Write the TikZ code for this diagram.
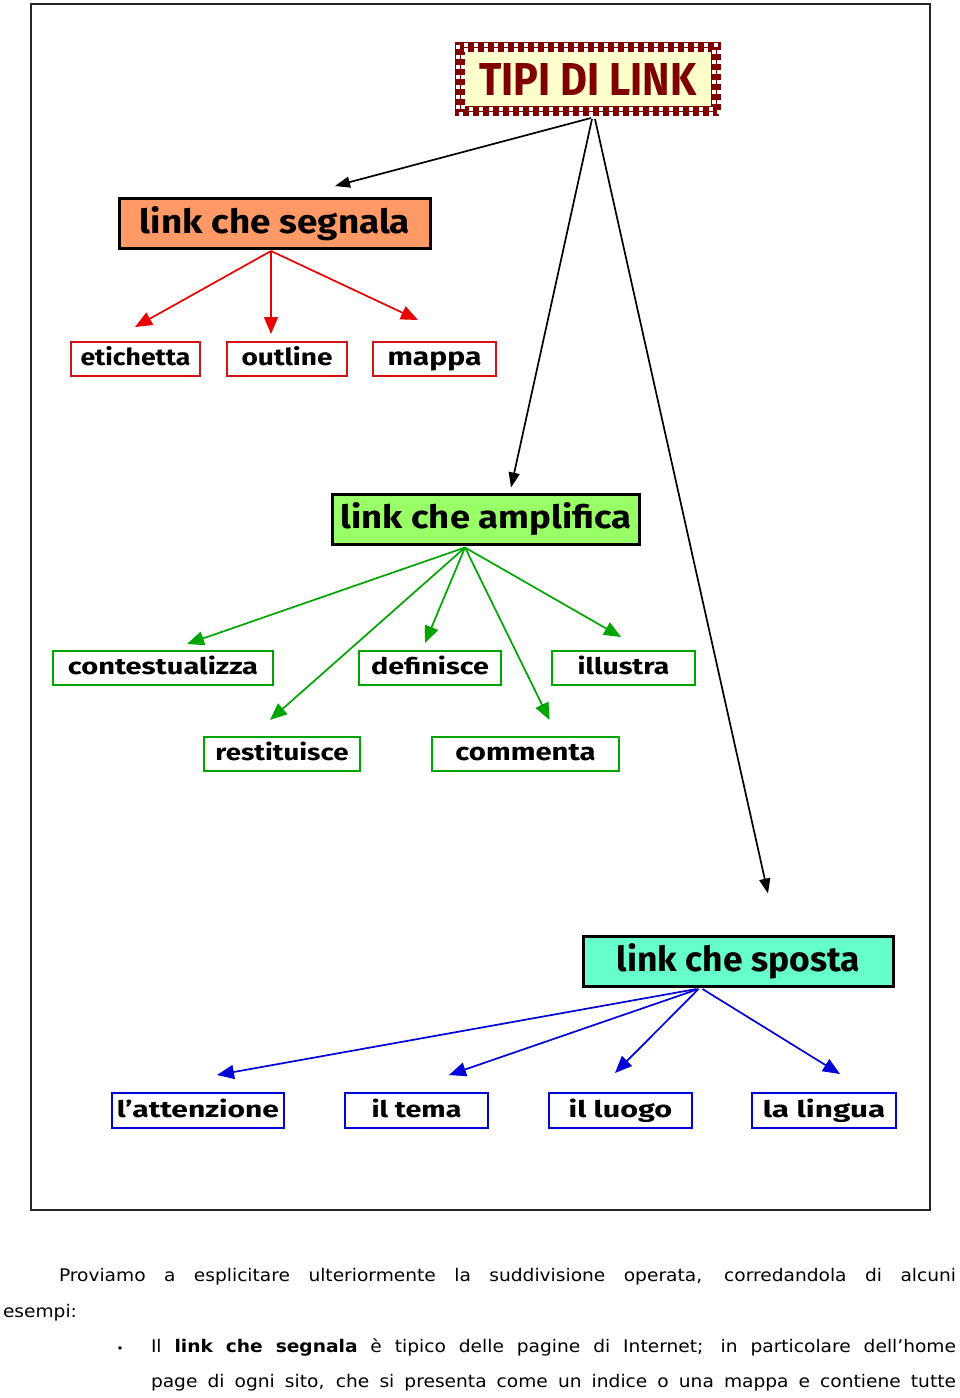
\documentclass[tikz,border=0pt]{standalone}
\usepackage{fontspec}
\usepackage{graphicx}
\usetikzlibrary{arrows.meta}
\newfontfamily\dfont{Fira Sans}
\newfontfamily\vfont{DejaVu Sans}[FakeStretch=1.07]
\definecolor{tred}{RGB}{128,0,0}
\definecolor{tcream}{RGB}{255,255,204}
\definecolor{corange}{RGB}{255,153,102}
\definecolor{cgreen}{RGB}{153,255,102}
\definecolor{caqua}{RGB}{102,255,204}
\definecolor{lred}{RGB}{235,0,0}
\definecolor{bred}{RGB}{210,20,20}
\definecolor{lgreen}{RGB}{0,165,0}
\definecolor{lblue}{RGB}{0,0,215}
\newcommand{\dtxt}[3]{\resizebox{#1}{#2}{\dfont\bfseries\vphantom{lg}#3}}
\tikzset{
  mainbox/.style={draw=black, line width=3pt, inner sep=0pt, outer sep=0pt, rectangle, minimum height=50pt},
  subbox/.style={draw=#1, line width=1.7pt, fill=white, inner sep=0pt, outer sep=0pt, rectangle, minimum height=34pt},
  blkarr/.style={draw=black, line width=1.7pt, -{Triangle[length=15pt,width=11pt]}},
  colarr/.style={draw=#1, line width=1.7pt, -{Triangle[length=17pt,width=14pt]}},
  ptext/.style={inner sep=0pt, outer sep=0pt, font=\vfont\fontsize{17.4pt}{17.4pt}\selectfont}
}
\begin{document}
\begin{tikzpicture}[x=1pt,y=-1pt]
\useasboundingbox (0,0) rectangle (960,1398);
\fill[white] (0,0) rectangle (960,1398);
\draw[line width=1.2pt, black!85] (31,4) rectangle (930,1210);

% title
\node[draw=tred, line width=10pt, fill=tcream, inner sep=0pt, outer sep=0pt,
      minimum width=256pt, minimum height=64pt, text=tred] (title) at (588,79)
      {\resizebox{217pt}{32pt}{\dfont\bfseries TIPI DI LINK}};
\draw[white, line width=4pt, dash pattern=on 4pt off 6pt]
  ([xshift=-2.5pt,yshift=2.5pt]title.north west) rectangle ([xshift=2.5pt,yshift=-2.5pt]title.south east);
\draw[white, line width=4pt, dash pattern=on 4pt off 6pt, dash phase=5pt]
  ([xshift=2.5pt,yshift=-2.5pt]title.north west) rectangle ([xshift=-2.5pt,yshift=2.5pt]title.south east);

% main boxes
\node[mainbox, fill=corange, minimum width=311pt] (segnala) at (275,223.5) {\dtxt{270pt}{27pt}{link che segnala}};
\node[mainbox, fill=cgreen, minimum width=307pt] (amplifica) at (486,519.5) {\dtxt{291pt}{26pt}{link che amplifica}};
\node[mainbox, fill=caqua, minimum width=310pt] (sposta) at (738.5,961.5) {\dtxt{243pt}{28pt}{link che sposta}};

% red children
\node[subbox=bred, minimum width=129pt] (etichetta) at (135.5,359) {\dtxt{110pt}{19pt}{etichetta}};
\node[subbox=bred, minimum width=120pt] (outline) at (287,359) {\dtxt{91pt}{19pt}{outline}};
\node[subbox=bred, minimum width=123pt] (mappa) at (434.5,359) {\dtxt{94pt}{19pt}{mappa}};

% green children
\node[subbox=lgreen, minimum width=220pt] (contest) at (163,668) {\dtxt{190pt}{18.5pt}{contestualizza}};
\node[subbox=lgreen, minimum width=142pt] (definisce) at (430,668) {\dtxt{118pt}{18.5pt}{definisce}};
\node[subbox=lgreen, minimum width=143pt] (illustra) at (623.5,668) {\dtxt{91.5pt}{18.5pt}{illustra}};
\node[subbox=lgreen, minimum width=156pt] (restit) at (282,754) {\dtxt{133pt}{18.5pt}{restituisce}};
\node[subbox=lgreen, minimum width=187pt] (commenta) at (525.5,754) {\dtxt{140pt}{18.5pt}{commenta}};

% blue children
\node[subbox=lblue, minimum width=172pt, minimum height=35pt] (attenz) at (198,1110.5) {\dtxt{162pt}{18.5pt}{l’attenzione}};
\node[subbox=lblue, minimum width=143pt, minimum height=35pt] (tema) at (416.5,1110.5) {\dtxt{90pt}{18.5pt}{il tema}};
\node[subbox=lblue, minimum width=143pt, minimum height=35pt] (luogo) at (620.5,1110.5) {\dtxt{103.5pt}{18.5pt}{il luogo}};
\node[subbox=lblue, minimum width=144pt, minimum height=35pt] (lingua) at (824,1110.5) {\dtxt{122.5pt}{18.5pt}{la lingua}};

% black arrows
\draw[blkarr] ([xshift=3pt,yshift=-7pt]title.south) -- ([xshift=60pt,yshift=12.5pt]segnala.north);
\draw[blkarr] ([xshift=4pt,yshift=-8pt]title.south) -- ([xshift=25pt,yshift=7pt]amplifica.north);
\draw[blkarr] ([xshift=7pt,yshift=-8pt]title.south) -- ([xshift=29.5pt,yshift=43pt]sposta.north);

% red arrows
\draw[colarr=lred] ([xshift=-4pt,yshift=-2.5pt]segnala.south) -- ([xshift=-0.5pt,yshift=15pt]etichetta.north);
\draw[colarr=lred] ([xshift=-4pt,yshift=-2.5pt]segnala.south) -- ([xshift=-16pt,yshift=8pt]outline.north);
\draw[colarr=lred] ([xshift=-4pt,yshift=-2.5pt]segnala.south) -- ([xshift=-16.5pt,yshift=22pt]mappa.north);

% green arrows
\draw[colarr=lgreen] ([xshift=-21pt,yshift=-3pt]amplifica.south) -- ([xshift=24pt,yshift=7pt]contest.north);
\draw[colarr=lgreen] ([xshift=-21pt,yshift=-3pt]amplifica.south) -- ([xshift=-12pt,yshift=17pt]restit.north);
\draw[colarr=lgreen] ([xshift=-21pt,yshift=-3pt]amplifica.south) -- ([xshift=-5pt,yshift=8pt]definisce.north);
\draw[colarr=lgreen] ([xshift=-21pt,yshift=-3pt]amplifica.south) -- ([xshift=24pt,yshift=17pt]commenta.north);
\draw[colarr=lgreen] ([xshift=-21pt,yshift=-3pt]amplifica.south) -- ([xshift=-2.5pt,yshift=14pt]illustra.north);

% blue arrows
\draw[colarr=lblue] ([xshift=-42pt,yshift=-2.5pt]sposta.south) -- ([xshift=19pt,yshift=18pt]attenz.north);
\draw[colarr=lblue] ([xshift=-40pt,yshift=-2.5pt]sposta.south) -- ([xshift=32.5pt,yshift=18pt]tema.north);
\draw[colarr=lblue] ([xshift=-40pt,yshift=-2.5pt]sposta.south) -- ([xshift=-5.5pt,yshift=20pt]luogo.north);
\draw[colarr=lblue] ([xshift=-36pt,yshift=-2.5pt]sposta.south) -- ([xshift=16pt,yshift=19pt]lingua.north);

% text below
\node[ptext, anchor=base west] (p1) at (59,1281)
  {\hbox to 897pt{\spaceskip=0.25em plus 1fil\relax Proviamo a esplicitare ulteriormente la suddivisione operata, corredandola di alcuni}};
\node[ptext, anchor=base west] (p2) at (3,1317) {esempi:};
\node[ptext, anchor=base] (bul) at (120,1352) {\fontsize{11pt}{11pt}\selectfont •};
\node[ptext, anchor=base west] (p3) at (151,1352.5)
  {\hbox to 805pt{\spaceskip=0.25em plus 1fil\relax Il \textbf{link che segnala} è tipico delle pagine di Internet; in particolare dell’home}};
\node[ptext, anchor=base west] (p4) at (151,1387.5)
  {\hbox to 805pt{\spaceskip=0.25em plus 1fil\relax page di ogni sito, che si presenta come un indice o una mappa e contiene tutte}};
\end{tikzpicture}
\end{document}
